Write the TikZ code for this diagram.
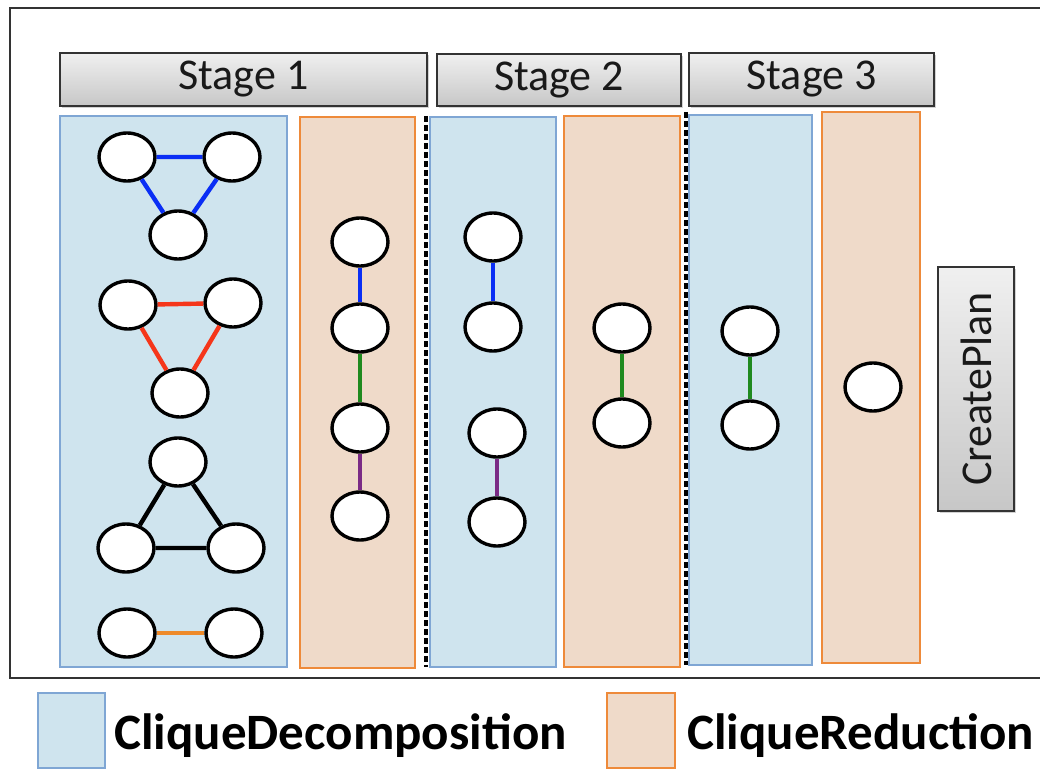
\documentclass[tikz,border=0pt]{standalone}
\usepackage{fontspec}
\setmainfont{Carlito}
\usetikzlibrary{shapes.geometric,shadows}

\definecolor{decofill}{HTML}{CFE4EE}
\definecolor{decoline}{HTML}{7FA6D4}
\definecolor{redfill}{HTML}{EFDAC9}
\definecolor{redline}{HTML}{EE8A3A}
\definecolor{eblue}{HTML}{0A2EF5}
\definecolor{ered}{HTML}{F5361A}
\definecolor{eorange}{HTML}{EE8A2A}
\definecolor{egreen}{HTML}{1F8A1F}
\definecolor{epurple}{HTML}{7A2A85}

\tikzset{
  vtx/.style={ellipse, draw=black, line width=3.4pt, fill=white,
    minimum width=56pt, minimum height=48pt, inner sep=0pt},
  edge/.style={line width=4.4pt},
  decocol/.style={draw=decoline, line width=1.5pt, fill=decofill},
  redcol/.style={draw=redline, line width=1.5pt, fill=redfill},
  stagebox/.style={draw=black!80, line width=2pt, top color=black!6,
    bottom color=black!22, inner sep=0pt, text=black!90,
    drop shadow={shadow xshift=1.5pt, shadow yshift=-2pt, opacity=0.35},
    font=\fontsize{44}{48}\selectfont},
  sep/.style={draw=black, line width=3.6pt, dash pattern=on 6pt off 3pt},
  legendbox/.style={line width=1.5pt},
  legendtext/.style={anchor=west, inner sep=0pt,
    font=\fontsize{51}{56}\selectfont\bfseries}
}

\begin{document}
\begin{tikzpicture}[x=1pt, y=-1pt]
\useasboundingbox (0,0) rectangle (1040,770);
\fill[white] (0,0) rectangle (1040,770);

% outer frame
\draw[black!80, line width=2.6pt] (10,8) rectangle (1060,678);

% stage headers
\node[stagebox, minimum width=367pt, minimum height=53pt] (s1) at (243.5,79.5) {Stage 1};
\node[stagebox, minimum width=244pt, minimum height=52pt] (s2) at (559,80) {Stage 2};
\node[stagebox, minimum width=245pt, minimum height=53pt] (s3) at (811.5,79.5) {Stage 3};

% columns
\draw[decocol] (60,116) rectangle (287,667);
\draw[redcol] (300,117) rectangle (415,668);
\draw[decocol] (430,117) rectangle (556,667);
\draw[redcol] (564,116) rectangle (680,667);
\draw[decocol] (689,115) rectangle (812,665);
\draw[redcol] (822,112) rectangle (920,663);

% stage separators
\coordinate (d1a) at (426,116);
\coordinate (d1b) at (426,667);
\coordinate (d2a) at (686,112);
\coordinate (d2b) at (686,665);
\draw[sep] (d1a) -- (d1b);
\draw[sep] (d2a) -- (d2b);

% final step
\node[stagebox, rotate=90, minimum width=244pt, minimum height=76pt] (plan) at (976,389) {CreatePlan};

% stage 1: clique decomposition
\node[vtx] (a1) at (127,157) {};
\node[vtx] (a2) at (232,157) {};
\node[vtx] (a3) at (178,235) {};
\draw[edge, eblue] (a1) -- (a2) (a1) -- (a3) (a2) -- (a3);

\node[vtx] (b1) at (128,305) {};
\node[vtx] (b2) at (233,303) {};
\node[vtx] (b3) at (180,393) {};
\draw[edge, ered] (b1) -- (b2) (b1) -- (b3) (b2) -- (b3);

\node[vtx] (c1) at (178,462) {};
\node[vtx] (c2) at (126,548) {};
\node[vtx] (c3) at (236,548) {};
\draw[edge, black] (c1) -- (c2) (c1) -- (c3) (c2) -- (c3);

\node[vtx] (e1) at (127,633) {};
\node[vtx] (e2) at (234,633) {};
\draw[edge, eorange] (e1) -- (e2);

% stage 1: clique reduction
\node[vtx] (r1) at (360,242) {};
\node[vtx] (r2) at (360,328) {};
\node[vtx] (r3) at (360,428) {};
\node[vtx] (r4) at (360,516) {};
\draw[edge, eblue] (r1) -- (r2);
\draw[edge, egreen] (r2) -- (r3);
\draw[edge, epurple] (r3) -- (r4);

% stage 2: clique decomposition
\node[vtx] (p1) at (493,237) {};
\node[vtx] (p2) at (493,327) {};
\draw[edge, eblue] (p1) -- (p2);
\node[vtx] (q1) at (497,433) {};
\node[vtx] (q2) at (497,522) {};
\draw[edge, epurple] (q1) -- (q2);

% stage 2: clique reduction
\node[vtx] (t1) at (622,328) {};
\node[vtx] (t2) at (622,423) {};
\draw[edge, egreen] (t1) -- (t2);

% stage 3: clique decomposition
\node[vtx] (u1) at (750,331) {};
\node[vtx] (u2) at (750,425) {};
\draw[edge, egreen] (u1) -- (u2);

% stage 3: clique reduction
\node[vtx] (w1) at (873,387) {};

% legend
\draw[legendbox, draw=decoline, fill=decofill] (38,693) rectangle (105,768);
\node[legendtext] (ld) at (114,736) {CliqueDecomposition};
\draw[legendbox, draw=redline, fill=redfill] (607,693) rectangle (675,768);
\node[legendtext] (lr) at (687,736) {CliqueReduction};
\end{tikzpicture}
\end{document}
